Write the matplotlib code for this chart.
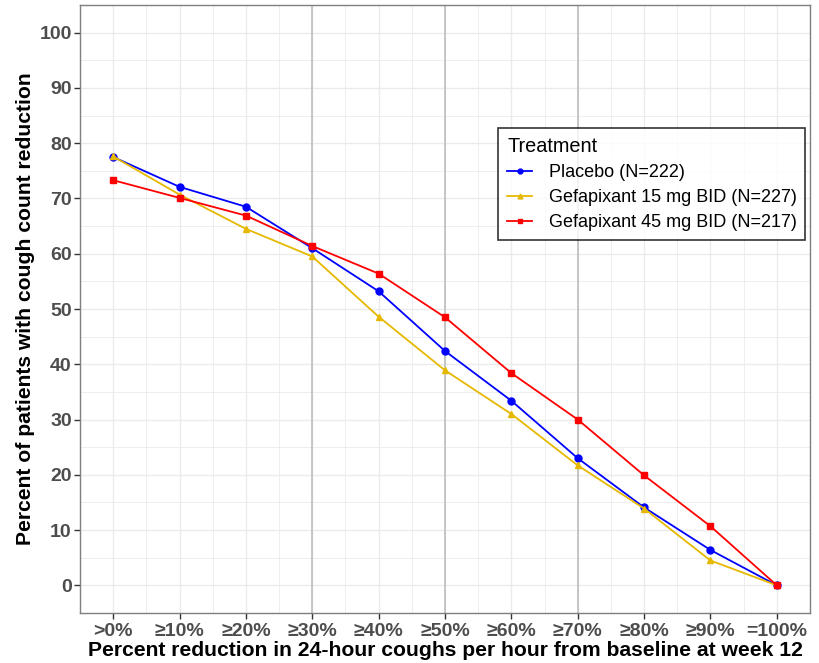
import matplotlib
matplotlib.use("Agg")
import matplotlib.pyplot as plt
from matplotlib.lines import Line2D
import numpy as np

categories = [">0%", "≥10%", "≥20%", "≥30%", "≥40%", "≥50%", "≥60%", "≥70%", "≥80%", "≥90%", "=100%"]
placebo = [77.5, 72.1, 68.5, 61.0, 53.2, 42.4, 33.4, 23.0, 14.1, 6.4, 0.0]
gef15 = [77.6, 70.7, 64.5, 59.5, 48.6, 38.9, 31.0, 21.7, 13.9, 4.5, 0.0]
gef45 = [73.3, 70.1, 66.9, 61.4, 56.4, 48.5, 38.4, 30.0, 19.9, 10.7, 0.0]
series_labels = ["Placebo (N=222)", "Gefapixant 15 mg BID (N=227)", "Gefapixant 45 mg BID (N=217)"]
colors = ["#0000FF", "#E6B800", "#FF0000"]
markers = ["o", "^", "s"]
highlight_cats = ["≥30%", "≥50%", "≥70%"]

plt.rcParams['font.family'] = ['Liberation Sans', 'DejaVu Sans']

fig = plt.figure(figsize=(8.19, 6.63), dpi=100)
W, H = 819, 663
ax = fig.add_axes([80 / W, (H - 613) / H, 730 / W, 608 / H])

x = np.arange(len(categories))
ax.set_xlim(-0.5, len(categories) - 0.5)
ax.set_ylim(-5, 105)

# grid
for yv in np.arange(0, 101, 5):
    ax.axhline(yv, color="#EBEBEB", lw=1.0 if yv % 10 == 0 else 0.6, zorder=0)
for xv in x:
    ax.axvline(xv, color="#EBEBEB", lw=1.0, zorder=0)
for xv in x[:-1] + 0.5:
    ax.axvline(xv, color="#EBEBEB", lw=0.6, zorder=0)
for c in highlight_cats:
    ax.axvline(categories.index(c), color="#BEBEBE", lw=1.2, zorder=1)

handles = []
for vals, col, mk, lab in zip([placebo, gef15, gef45], colors, markers, series_labels):
    ax.plot(x, vals, color=col, lw=1.3, marker=mk, markersize=5, zorder=3)
    handles.append(Line2D([0], [0], color=col, lw=1.3, marker=mk, markersize=3.5, label=lab))

ax.set_xticks(x)
ax.set_xticklabels(categories)
ax.set_yticks(np.arange(0, 101, 10))
ax.tick_params(axis="both", colors="#333333", labelcolor="#4D4D4D", labelsize=14, length=4, width=1)
ax.tick_params(axis="x", pad=3)
ax.tick_params(axis="y", pad=2)
for t in ax.get_xticklabels() + ax.get_yticklabels():
    t.set_fontweight("bold")
for s in ax.spines.values():
    s.set_color("#7F7F7F")
    s.set_linewidth(1.0)

ax.set_xlabel("Percent reduction in 24-hour coughs per hour from baseline at week 12",
              fontsize=15.2, fontweight="bold", labelpad=1)
ax.set_ylabel("Percent of patients with cough count reduction",
              fontsize=15.2, fontweight="bold", labelpad=3)

leg = ax.legend(handles=handles, title="Treatment", loc="upper left",
                bbox_to_anchor=((498 - 80) / 730, (613 - 128) / 608),
                fontsize=13, title_fontsize=14.3, frameon=True, fancybox=False,
                edgecolor="black", handlelength=1.4, handletextpad=0.9,
                borderpad=0.5, labelspacing=0.45, borderaxespad=0)
leg.get_frame().set_linewidth(1.2)
leg._legend_box.align = "left"

fig.savefig("out.png", dpi=100)
